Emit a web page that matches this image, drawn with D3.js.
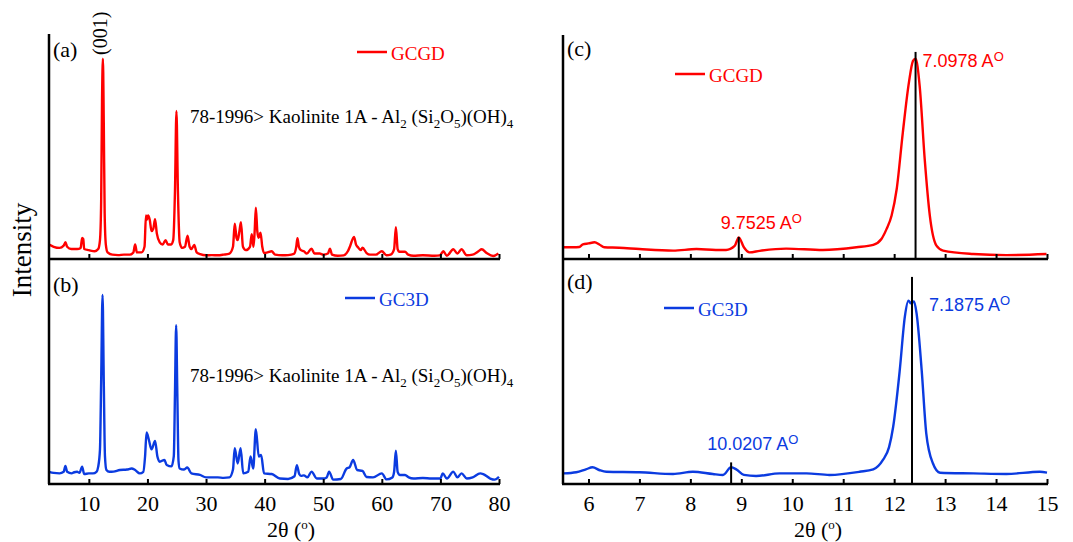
<!DOCTYPE html>
<html>
<head>
<meta charset="utf-8">
<script src="https://cdn.jsdelivr.net/npm/d3@7"></script>
<style>
  body { margin: 0; background: #fff; }
  svg { display: block; }
</style>
</head>
<body>
<svg id="svg" width="1073" height="542"></svg>
<script>
//series data: [2theta, intensity]
const gcgdWide = [[3.2,6],[4,5],[5,4.5],[5.7,5.5],[6.0,7],[6.3,5],[7,4],[8,4],[8.6,4.5],[8.85,9],[9.05,8.5],[9.2,4],[10,3.5],[11,3],[11.6,4],[11.9,8],[12.1,25],[12.25,70],[12.4,89],[12.55,60],[12.7,20],[12.9,6],[13.2,2.5],[14,1.5],[15,1.3],[16,1.5],[17,1.5],[17.6,2.5],[17.9,6],[18.2,2.5],[19,2.5],[19.5,5],[19.75,19],[19.9,17],[20.1,19],[20.4,17],[20.7,12],[21.0,13],[21.3,17.3],[21.6,11],[22.1,7],[22.6,6],[23.1,8],[23.5,6],[24.0,6],[24.4,8],[24.7,30],[24.95,65.6],[25.2,30],[25.5,7],[25.9,4.5],[26.4,5],[26.85,10],[27.2,5],[27.5,4],[28.0,5.8],[28.4,2.5],[29,1.7],[30,1.2],[31,1.3],[32,1.2],[33,1.5],[34,2],[34.6,5],[34.9,15.3],[35.2,9],[35.4,8],[35.7,12],[35.96,16],[36.3,5],[36.8,3.5],[37.5,5],[37.8,10.6],[38.1,5],[38.3,12],[38.5,22.5],[38.75,12],[38.97,9],[39.3,11.3],[39.6,5],[39.9,2.2],[40.5,2.5],[41.2,3],[41.8,1.5],[43,1.2],[44,1.3],[45,1.8],[45.4,5],[45.6,8.8],[45.85,5],[46.2,3.5],[46.7,3],[47.2,2],[48.0,4.2],[48.5,2],[49.4,2],[50,1.5],[50.8,2],[51.15,4.2],[51.5,1.5],[52.5,1],[53.5,1.2],[54.2,3],[54.6,5.4],[55.25,9.4],[55.6,6],[56.0,4.6],[56.4,3.5],[56.7,4.6],[57.4,2.2],[58,1.5],[59,1.5],[60,3],[60.8,1.2],[61.5,1.5],[62.1,4],[62.4,13.8],[62.7,4],[63.0,2.8],[63.96,2.8],[64.5,1.5],[65.4,1],[67,1.2],[69,1],[69.9,1.2],[70.5,3],[71.1,1],[72.2,3.9],[72.9,2],[73.6,3.9],[74.5,1.2],[75.5,1.5],[76.5,3],[77.05,3.9],[77.9,2.2],[79,0.9],[79.9,2]];

const gc3dWide = [[3.2,5],[4,4.5],[5,4.3],[5.7,5],[6.0,7.6],[6.3,5],[7.05,4.3],[7.5,4.8],[8.0,5],[8.4,4.5],[8.86,7.3],[9.2,4],[10,4.3],[10.7,4.3],[11.3,5],[11.6,7.3],[11.9,15],[12.1,45],[12.34,84],[12.55,45],[12.75,12],[13.0,5.8],[13.5,5],[14.2,5.1],[15.3,5.8],[16.5,6],[17.3,6.5],[17.9,5.8],[18.7,4.3],[19.3,5],[19.6,12],[19.85,22.6],[20.25,19.2],[20.7,15],[21.3,18.75],[21.7,11.8],[22.1,9.5],[22.9,10.3],[23.3,8],[24.1,7.4],[24.5,12],[24.7,40],[24.9,70.5],[25.1,40],[25.3,10],[25.5,6.5],[26.2,6],[26.8,6.9],[27.5,4.3],[28.96,3.6],[30,2.5],[31,2.5],[32,2.5],[33,2.3],[34,2.5],[34.6,6],[34.9,15.5],[35.4,8.7],[35.9,15.5],[36.35,4.3],[37.2,5],[37.6,11.8],[38.05,6.5],[38.5,24],[39.0,11.8],[39.4,12.5],[39.9,4.3],[41.2,4],[42.6,2],[44,1.8],[45.1,3],[45.5,8],[45.9,4],[46.2,3.2],[46.7,3.4],[47.3,2.5],[48.0,5.1],[48.9,2],[50,2],[50.6,2.5],[51.0,5.1],[51.7,1.5],[53,1.8],[54.0,6.5],[54.5,7],[55.1,10.3],[55.8,5.8],[56.7,5.4],[57.4,2.7],[58.5,2.5],[60.0,4.3],[60.8,1.6],[61.8,2.5],[62.1,5],[62.4,14.4],[62.7,5],[63.1,3.6],[63.96,3.6],[64.6,2.5],[65.4,2],[67,2.2],[68.5,2],[70.0,2],[70.4,4.3],[71.1,2],[72.2,5.1],[72.9,2.5],[73.6,4.3],[74.5,2],[75.5,2.5],[76.8,4.3],[77.3,4],[78.5,2],[79.3,1.5],[80,2.7]];

const gcgdNarrow = [[5.51,4.8],[5.7,4.8],[5.82,4.9],[5.89,6.1],[6.0,6.5],[6.12,7],[6.22,5.9],[6.31,4.8],[6.6,4.6],[7.0,4],[7.66,3.3],[8.12,4],[8.5,3.6],[8.7,3.6],[8.87,5.4],[8.95,9.2],[9.05,4.8],[9.16,2.5],[9.36,3.2],[9.88,4.2],[10.6,3.6],[11.26,4.8],[11.59,5.9],[11.75,8.5],[11.85,12.9],[11.95,19],[12.05,30.8],[12.17,56],[12.29,78.4],[12.37,88],[12.42,89],[12.5,77],[12.6,44],[12.7,18.9],[12.83,5.5],[12.96,3.3],[13.55,1.8],[14.2,1.3],[14.99,1.8]];

const gc3dNarrow = [[5.51,4.3],[5.76,4.8],[5.95,6.1],[6.08,7],[6.22,5.7],[6.35,5],[7.0,4.8],[7.66,4],[8.05,5],[8.44,4],[8.64,3.6],[8.8,7],[8.9,6.1],[9.05,3.6],[9.29,3.1],[9.75,4.3],[10.28,4.3],[10.73,3.6],[11.32,5],[11.59,6.1],[11.78,10.3],[11.9,16],[11.98,25],[12.11,50.4],[12.21,74.3],[12.28,81.4],[12.33,80.2],[12.39,81],[12.44,75.7],[12.54,50.4],[12.63,22.2],[12.76,8.8],[12.9,4.6],[13.55,4.3],[14.2,4],[14.86,5],[15,4.6]];

//d-spacing reference lines: position, height, label
const peaksC = [{t: 8.95, h: 9.4, label: "9.7525"}, {t: 12.42, h: 92, label: "7.0978"}];
const peaksD = [{t: 8.8, h: 9.2, label: "10.0207"}, {t: 12.35, h: 92, label: "7.1875"}];

//tick values
const wideTicks = [10, 20, 30, 40, 50, 60, 70, 80];
const narrowTicks = [6, 7, 8, 9, 10, 11, 12, 13, 14, 15];

const RED = "#ff0000";
const BLUE = "#0b3be0";
const SERIF = "'Liberation Serif', 'Times New Roman', serif";
const SANS = "'Liberation Sans', Arial, sans-serif";

var svg = d3.select("#svg");

var xWide = d3.scaleLinear().domain([3.2, 80]).range([49, 499]);
var xNarrow = d3.scaleLinear().domain([5.5, 15]).range([563, 1047]);

function yScale(axisY) {
    return d3.scaleLinear().domain([0, 100]).range([axisY - 1, axisY - 225]);
}

function drawPanel(o) {
    var y = yScale(o.axisY);
    var g = svg.append("g");

    //curve
    var line = d3.line()
            .x(d => o.x(d[0]))
            .y(d => y(d[1]))
            .curve(d3.curveMonotoneX);
    g.append("path")
            .datum(o.data)
            .attr("d", line)
            .attr("fill", "none")
            .attr("stroke", o.color)
            .attr("stroke-width", 2.4)
            .attr("stroke-linejoin", "round");

    //x axis with inward ticks
    var axis = d3.axisBottom(o.x)
            .tickValues(o.ticks)
            .tickSizeInner(-5)
            .tickSizeOuter(0)
            .tickPadding(11)
            .tickFormat(o.labels ? d3.format("d") : "");
    var ax = g.append("g")
            .attr("transform", "translate(0," + o.axisY + ")")
            .call(axis);
    ax.select(".domain").remove();
    ax.selectAll(".tick line").attr("stroke", "#000").attr("stroke-width", 2);
    ax.selectAll(".tick text")
            .attr("font-family", SERIF)
            .attr("font-size", 22)
            .attr("fill", "#000");

    //axis lines
    var x0 = o.x.range()[0], x1 = o.x.range()[1];
    g.append("line")
            .attr("x1", x0 - 1).attr("x2", x1 + 1)
            .attr("y1", o.axisY).attr("y2", o.axisY)
            .attr("stroke", "#000").attr("stroke-width", 2.5);
    g.append("line")
            .attr("x1", x0).attr("x2", x0)
            .attr("y1", o.topY).attr("y2", o.axisY)
            .attr("stroke", "#000").attr("stroke-width", 2.5);

    //panel tag
    g.append("text")
            .attr("x", x0 + 4).attr("y", o.tagY)
            .attr("font-family", SERIF).attr("font-size", 22)
            .attr("fill", "#000")
            .text(o.tag);

    //legend
    g.append("line")
            .attr("x1", o.legend[0]).attr("x2", o.legend[0] + 30)
            .attr("y1", o.legend[1]).attr("y2", o.legend[1])
            .attr("stroke", o.color).attr("stroke-width", 2.5);
    g.append("text")
            .attr("x", o.legend[0] + 34).attr("y", o.legend[1] + 8)
            .attr("font-family", SERIF).attr("font-size", 19)
            .attr("fill", o.color)
            .text(o.name);

    //reference lines
    if (o.peaks) {
        o.peaks.forEach(function (p, i) {
            g.append("line")
                    .attr("x1", o.x(p.t)).attr("x2", o.x(p.t))
                    .attr("y1", y(p.h)).attr("y2", o.axisY)
                    .attr("stroke", "#000").attr("stroke-width", 2);
            var t = g.append("text")
                    .attr("x", o.x(p.t) + o.peakOffsets[i][0])
                    .attr("y", y(p.h) + o.peakOffsets[i][1])
                    .attr("font-family", SANS).attr("font-size", 18)
                    .attr("fill", o.color);
            t.append("tspan").text(p.label + " A");
            t.append("tspan").attr("font-size", 13).attr("dy", -6).text("O");
        });
    }
    return y;
}

function kaolinite(x, yy) {
    var t = svg.append("text")
            .attr("x", x).attr("y", yy)
            .attr("font-family", SERIF).attr("font-size", 19)
            .attr("fill", "#000");
    t.append("tspan").text("78-1996> Kaolinite 1A - Al");
    t.append("tspan").attr("font-size", 13).attr("dy", 5).text("2");
    t.append("tspan").attr("dy", -5).text(" (Si");
    t.append("tspan").attr("font-size", 13).attr("dy", 5).text("2");
    t.append("tspan").attr("dy", -5).text("O");
    t.append("tspan").attr("font-size", 13).attr("dy", 5).text("5");
    t.append("tspan").attr("dy", -5).text(")(OH)");
    t.append("tspan").attr("font-size", 13).attr("dy", 5).text("4");
}

function xTitle(cx) {
    var t = svg.append("text")
            .attr("x", cx).attr("y", 537)
            .attr("text-anchor", "middle")
            .attr("font-family", SERIF).attr("font-size", 22)
            .attr("fill", "#000");
    t.append("tspan").text("2\u03b8 (");
    t.append("tspan").attr("font-size", 13).attr("dy", -8).text("o");
    t.append("tspan").attr("dy", 8).text(")");
}

//(a)
drawPanel({x: xWide, data: gcgdWide, color: RED, axisY: 259, topY: 34,
    ticks: wideTicks, labels: false, tag: "(a)", tagY: 57, legend: [357, 52], name: "GCGD"});
//(b)
drawPanel({x: xWide, data: gc3dWide, color: BLUE, axisY: 484, topY: 259,
    ticks: wideTicks, labels: true, tag: "(b)", tagY: 292, legend: [345, 298], name: "GC3D"});
//(c)
drawPanel({x: xNarrow, data: gcgdNarrow, color: RED, axisY: 259, topY: 35,
    ticks: narrowTicks, labels: false, tag: "(c)", tagY: 56, legend: [675, 74], name: "GCGD",
    peaks: peaksC, peakOffsets: [[-18, -8], [7, 15]]});
//(d)
drawPanel({x: xNarrow, data: gc3dNarrow, color: BLUE, axisY: 484, topY: 259,
    ticks: narrowTicks, labels: true, tag: "(d)", tagY: 289, legend: [664, 308], name: "GC3D",
    peaks: peaksD, peakOffsets: [[-24, -12], [17, 34]]});

//(001) label above the main peak
svg.append("text")
        .attr("transform", "translate(" + (xWide(12.4) + 4) + "," + 55 + ") rotate(-90)")
        .attr("font-family", SERIF).attr("font-size", 20)
        .attr("fill", "#000")
        .text("(001)");

kaolinite(190, 123);
kaolinite(190, 382);

xTitle(291);
xTitle(818);

//y title
svg.append("text")
        .attr("transform", "translate(31,250) rotate(-90)")
        .attr("text-anchor", "middle")
        .attr("font-family", SERIF).attr("font-size", 27)
        .attr("fill", "#000")
        .text("Intensity");
</script>
</body>
</html>
